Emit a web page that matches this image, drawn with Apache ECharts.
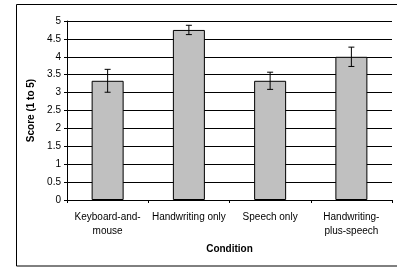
<!DOCTYPE html>
<html>
<head>
<meta charset="utf-8">
<script src="https://cdn.jsdelivr.net/npm/echarts@6/dist/echarts.min.js"></script>
<style>
  html, body { margin: 0; padding: 0; background: #fff; }
  #chart { width: 397px; height: 267px; }
</style>
</head>
<body>
<div id="chart"></div>
<script>
// data
const conditions = ['Keyboard-and-\nmouse', 'Handwriting only', 'Speech only', 'Handwriting-\nplus-speech']
const scores = [3.33, 4.75, 3.33, 4.0]
const errors = [0.32, 0.13, 0.24, 0.27]

const chart = echarts.init(document.getElementById('chart'))

// error bars drawn through the value axis
const errorData = scores.map((v, i) => [i, v - errors[i], v + errors[i]])

chart.setOption({
  animation: false,
  textStyle: { fontFamily: 'Liberation Sans, Arial, sans-serif' },
  graphic: [
    {
      type: 'rect',
      shape: { x: 16.5, y: 4.5, width: 400, height: 261.5 },
      style: { fill: 'none', stroke: '#000', lineWidth: 1 },
      silent: true
    }
  ],
  grid: { left: 67, right: 5, top: 21, bottom: 67 },
  xAxis: {
    type: 'category',
    data: conditions,
    name: 'Condition',
    nameLocation: 'middle',
    nameGap: 44,
    nameTextStyle: { fontWeight: 'bold', fontSize: 10, color: '#000' },
    axisLine: { lineStyle: { color: '#000', width: 1 } },
    axisTick: { show: true, length: 3, lineStyle: { color: '#000' } },
    axisLabel: { color: '#000', fontSize: 10, margin: 10, lineHeight: 14, interval: 0 }
  },
  yAxis: {
    type: 'value',
    min: 0,
    max: 5,
    interval: 0.5,
    name: 'Score (1 to 5)',
    nameLocation: 'middle',
    nameGap: 30,
    nameTextStyle: { fontWeight: 'bold', fontSize: 10, color: '#000' },
    axisLine: { show: true, lineStyle: { color: '#000', width: 1 } },
    axisTick: { show: true, length: 3, lineStyle: { color: '#000' } },
    axisLabel: { color: '#000', fontSize: 10, margin: 6 },
    splitLine: { lineStyle: { color: '#000', width: 1 } }
  },
  series: [
    {
      type: 'bar',
      data: scores,
      barWidth: 32,
      itemStyle: { color: '#c0c0c0', borderColor: '#000', borderWidth: 1 }
    },
    {
      type: 'custom',
      data: errorData,
      z: 10,
      renderItem: (params, api) => {
        const x = api.value(0)
        const lo = api.coord([x, api.value(1)])
        const hi = api.coord([x, api.value(2)])
        const w = 3
        const style = { stroke: '#000', lineWidth: 1 }
        return {
          type: 'group',
          children: [
            { type: 'line', shape: { x1: lo[0], y1: lo[1], x2: hi[0], y2: hi[1] }, style },
            { type: 'line', shape: { x1: lo[0] - w, y1: lo[1], x2: lo[0] + w, y2: lo[1] }, style },
            { type: 'line', shape: { x1: hi[0] - w, y1: hi[1], x2: hi[0] + w, y2: hi[1] }, style }
          ]
        }
      }
    }
  ]
})
</script>
</body>
</html>
